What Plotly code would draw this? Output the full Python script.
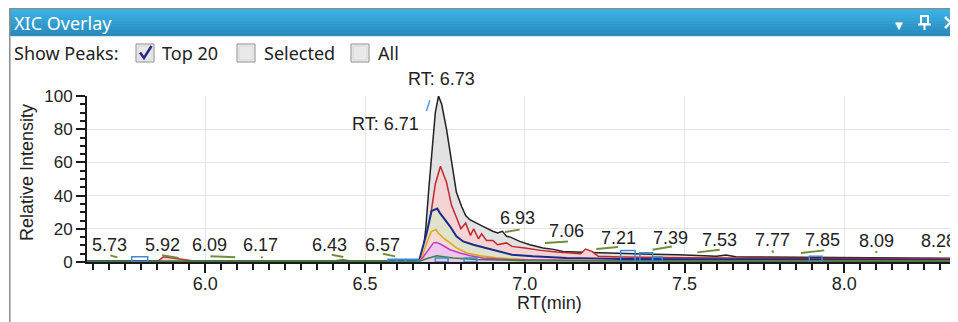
import plotly.graph_objects as go

# ---------------- data ----------------
rt_total = [5.63, 5.80, 6.00, 6.20, 6.40, 6.43, 6.46, 6.60, 6.665, 6.68, 6.69, 6.70, 6.71, 6.72, 6.73,
            6.74, 6.755, 6.771, 6.786, 6.802, 6.815, 6.828, 6.849, 6.869, 6.90, 6.915, 6.93, 6.943,
            6.955, 6.984, 7.016, 7.057, 7.09, 7.12, 7.18, 7.234, 7.27, 7.33, 7.40, 7.48, 7.55, 7.60,
            7.63, 7.66, 7.70, 7.80, 7.90, 8.00, 8.10, 8.20, 8.34]
int_total = [0.5, 0.5, 0.5, 0.5, 0.6, 1.2, 0.6, 0.8, 1.0, 3, 20, 45, 68, 90, 100,
             95, 80, 60, 42, 33.6, 28, 25.5, 23.7, 21.5, 18.5, 17.5, 18.5, 15.5,
             15, 12.4, 10.4, 8.4, 7.6, 6.4, 5.8, 5.4, 5.4, 5.0, 4.6, 4.4, 3.8, 3.4,
             4.2, 3.2, 3.0, 2.8, 2.8, 2.6, 2.5, 2.4, 2.3]

rt_red = [5.63, 5.85, 5.87, 5.92, 5.97, 6.20, 6.60, 6.67, 6.69, 6.70, 6.71, 6.72, 6.736, 6.755,
          6.771, 6.786, 6.80, 6.815, 6.83, 6.84, 6.855, 6.865, 6.88, 6.90, 6.915, 6.943, 6.96,
          7.00, 7.05, 7.10, 7.15, 7.175, 7.19, 7.21, 7.23, 7.30, 7.50, 8.00, 8.34]
int_red = [0.3, 0.3, 3.2, 2.0, 0.4, 0.3, 0.4, 0.6, 8, 20, 34, 47, 57.7, 48,
           34, 27, 20, 23.5, 16, 20, 14, 17, 13, 13, 10.4, 11.5, 9.4,
           8.5, 7, 6, 5.2, 5, 7.8, 6.4, 3.4, 3, 2.5, 2.1, 1.9]

rt_blue = [5.63, 6.66, 6.67, 6.693, 6.708, 6.726, 6.734, 6.75, 6.766, 6.786, 6.807, 6.839, 6.86,
           6.90, 6.943, 6.96, 7.025, 7.13, 7.30, 7.60, 8.00, 8.34]
int_blue = [0.3, 0.4, 1.4, 17.5, 30.6, 32.2, 29.6, 25.5, 21.5, 15.5, 12.4, 10.4, 9.4,
            7.4, 5.4, 4.4, 3.4, 2.4, 1.8, 1.5, 1.3, 1.2]

rt_orange = [5.63, 6.665, 6.677, 6.693, 6.708, 6.722, 6.729, 6.745, 6.766, 6.786, 6.818, 6.86,
             6.91, 7.00, 7.30, 8.34]
int_orange = [0.2, 0.3, 2.4, 11.5, 18.5, 19.5, 17.5, 14.5, 11.5, 8.5, 5.4, 3.8,
              2.5, 1.5, 0.8, 0.5]

rt_magenta = [5.63, 6.665, 6.68, 6.698, 6.714, 6.724, 6.74, 6.766, 6.797, 6.83, 6.87, 6.95, 7.30, 8.34]
int_magenta = [0.2, 0.3, 2.4, 7.4, 11.5, 11.8, 10.4, 7.4, 5.4, 3.8, 2.4, 1.5, 0.6, 0.4]

rt_green = [5.63, 6.67, 6.69, 6.724, 6.776, 6.85, 7.00, 8.34]
int_green = [0.2, 0.4, 1.8, 3.8, 2.4, 1.5, 0.8, 0.4]

# peak RT labels
peak_rt = [5.73, 5.92, 6.09, 6.17, 6.43, 6.57, 6.93, 7.06, 7.21, 7.39, 7.53, 7.77, 7.85, 8.09, 8.28]
label_int = [10.4, 10.4, 10.4, 10.4, 10.4, 10.4, 26.7, 18.5, 14.5, 14.5, 13.5, 13.5, 13.5, 12.4, 12.4]

# apex tangent marks (start/end RT and intensity)
mark_x0 = [5.703, 5.865, 6.016, 6.176, 6.396, 6.556, 6.938, 7.063, 7.224, 7.40, 7.54, 7.775, 7.864, 8.099, 8.299]
mark_x1 = [5.725, 5.917, 6.094, 6.178, 6.432, 6.594, 6.984, 7.135, 7.292, 7.46, 7.61, 7.777, 7.937, 8.101, 8.301]
mark_y0 = [4.0, 4.0, 3.4, 3.4, 4.4, 5.0, 18.1, 11.5, 7.8, 7.4, 5.8, 7.0, 5.4, 6.6, 6.6]
mark_y1 = [2.8, 2.4, 2.8, 2.4, 3.0, 3.4, 19.5, 12.4, 9.0, 9.4, 7.4, 5.6, 7.0, 5.4, 5.4]

# integration boxes (start RT, end RT, height)
box_x0 = [5.77, 6.572, 6.600, 6.628, 6.72, 6.81, 7.30, 7.36, 7.40, 7.89]
box_x1 = [5.82, 6.598, 6.626, 6.665, 6.76, 6.85, 7.345, 7.40, 7.43, 7.93]
box_h = [3.2, 1.6, 1.6, 1.6, 2.4, 2.4, 7.0, 5.6, 3.0, 3.4]

rt_labels = ["RT: 6.73", "RT: 6.71"]
rt_label_x = [6.73, 6.71]
rt_label_y = [110, 82.9]

x_ticks = [6.0, 6.5, 7.0, 7.5, 8.0]
y_ticks = [0, 20, 40, 60, 80, 100]
Y_MAX = 100

# ---------------- layout helpers ----------------
# the page body has an 8px margin, so the figure is 8px smaller than the window
OFF = 8
W, H = 958 - OFF, 322 - OFF
ML, MR, MT, MB = 87, 5, 96, 60          # in window pixels
PW, PH = 958 - ML - MR, 322 - MT - MB


def px(x):
    return (x - ML) / PW


def py(y):
    return 1 - (y - MT) / PH


AX_FONT = "Liberation Sans, Arial, sans-serif"
UI_FONT = "Noto Sans, Open Sans, sans-serif"
TXT = "#222222"

fig = go.Figure()

series = [
    (rt_total, int_total, "#222222", "#e2e2e2", 1.5),
    (rt_red, int_red, "#c2272d", "#f3d3d3", 1.5),
    (rt_blue, int_blue, "#1c2a8a", "#dfe3c9", 2.0),
    (rt_orange, int_orange, "#e3a21a", "#f2dcd2", 1.5),
    (rt_magenta, int_magenta, "#c23cc2", "#efc6ee", 1.5),
    (rt_green, int_green, "#2f8a2f", None, 1.5),
]
for xs, ys, lc, fc, lw in series:
    fig.add_trace(go.Scatter(
        x=xs, y=ys, mode="lines",
        line=dict(color=lc, width=lw),
        fill="tozeroy" if fc else None,
        fillcolor=fc,
        hoverinfo="skip", showlegend=False,
    ))

# integration boxes
bx, by = [], []
for a, b, h in zip(box_x0, box_x1, box_h):
    bx += [a, b, b, a, a, None]
    by += [0, 0, h, h, 0, None]
fig.add_trace(go.Scatter(x=bx, y=by, mode="lines", line=dict(color="#3d8bd3", width=1.5),
                         hoverinfo="skip", showlegend=False))

# apex marks
mx, my = [], []
for a, b, c, d in zip(mark_x0, mark_x1, mark_y0, mark_y1):
    mx += [a, b, None]
    my += [c, d, None]
fig.add_trace(go.Scatter(x=mx, y=my, mode="lines", line=dict(color="#6f8f3c", width=2),
                         hoverinfo="skip", showlegend=False))

# connector dash for RT: 6.71 label
fig.add_trace(go.Scatter(x=[6.692, 6.703], y=[91, 97.5], mode="lines",
                         line=dict(color="#5a9ae0", width=1.5),
                         hoverinfo="skip", showlegend=False))

annotations = []
label_xshift = [-9, -17, -25, 1, -13, -5, 15, 23, 27, 21, 25, 2, 26, 3, 5]
for rt, yv, sh in zip(peak_rt, label_int, label_xshift):
    annotations.append(dict(x=rt, y=yv, xref="x", yref="y", text=f"{rt:.2f}", showarrow=False,
                            xshift=sh, font=dict(family=AX_FONT, size=18, color=TXT),
                            xanchor="center", yanchor="middle"))
rt_shift = [3, -47]
for t, xv, yv, sh in zip(rt_labels, rt_label_x, rt_label_y, rt_shift):
    annotations.append(dict(x=xv, y=yv / Y_MAX, xref="x", yref="paper", text=t, showarrow=False,
                            xshift=sh, font=dict(family=AX_FONT, size=18, color=TXT),
                            xanchor="center", yanchor="middle"))

# axis titles
annotations.append(dict(x=px(27), y=py(173), xref="paper", yref="paper", text="Relative Intensity",
                        textangle=-90, showarrow=False, font=dict(family=AX_FONT, size=18, color=TXT),
                        xanchor="center", yanchor="middle"))
annotations.append(dict(x=px(549), y=py(303), xref="paper", yref="paper", text="RT(min)",
                        showarrow=False, font=dict(family=AX_FONT, size=18, color=TXT),
                        xanchor="center", yanchor="middle"))

# window chrome texts
annotations.append(dict(x=px(12), y=py(23), xref="paper", yref="paper", text="XIC Overlay",
                        showarrow=False, font=dict(family=UI_FONT, size=18, color="white"),
                        xanchor="left", yanchor="middle"))
for t, xl in [("Show Peaks:", 12), ("Top 20", 160), ("Selected", 262), ("All", 376)]:
    annotations.append(dict(x=px(xl), y=py(53), xref="paper", yref="paper", text=t,
                            showarrow=False, font=dict(family=UI_FONT, size=18, color=TXT),
                            xanchor="left", yanchor="middle"))
annotations.append(dict(x=px(899), y=py(25), xref="paper", yref="paper", text="▼",
                        showarrow=False, font=dict(family="DejaVu Sans", size=10, color="white"),
                        xanchor="center", yanchor="middle"))

shapes = []
# title bar gradient
top_c = (0x3c, 0xb2, 0xe4)
bot_c = (0x2a, 0x8a, 0xbc)
n = 9
y0, y1 = 9, 36
for i in range(n):
    t = i / (n - 1)
    c = tuple(int(top_c[k] + (bot_c[k] - top_c[k]) * t) for k in range(3))
    ya = y0 + (y1 - y0) * i / n
    yb = y0 + (y1 - y0) * (i + 1) / n
    shapes.append(dict(type="rect", xref="paper", yref="paper", x0=px(10), x1=px(960),
                       y0=py(ya), y1=py(yb + 0.3), line=dict(width=0),
                       fillcolor="rgb(%d,%d,%d)" % c, layer="below"))
shapes.append(dict(type="line", xref="paper", yref="paper", x0=px(9.5), x1=px(960),
                   y0=py(8.6), y1=py(8.6), line=dict(color="#8a8a8a", width=1.5)))
shapes.append(dict(type="line", xref="paper", yref="paper", x0=px(9.8), x1=px(9.8),
                   y0=py(8), y1=py(323), line=dict(color="#8a8a8a", width=1.5)))
shapes.append(dict(type="line", xref="paper", yref="paper", x0=px(10.5), x1=px(960),
                   y0=py(37), y1=py(37), line=dict(color="#e3f1f9", width=1)))
# pin icon
shapes.append(dict(type="rect", xref="paper", yref="paper", x0=px(921), x1=px(928),
                   y0=py(16), y1=py(24), line=dict(color="white", width=2), fillcolor="rgba(0,0,0,0)"))
shapes.append(dict(type="line", xref="paper", yref="paper", x0=px(918), x1=px(931),
                   y0=py(24.5), y1=py(24.5), line=dict(color="white", width=2)))
shapes.append(dict(type="line", xref="paper", yref="paper", x0=px(924.5), x1=px(924.5),
                   y0=py(24.5), y1=py(30), line=dict(color="white", width=2)))
# close icon
shapes.append(dict(type="line", xref="paper", yref="paper", x0=px(945), x1=px(956),
                   y0=py(17), y1=py(28), line=dict(color="white", width=2.5)))
shapes.append(dict(type="line", xref="paper", yref="paper", x0=px(945), x1=px(956),
                   y0=py(28), y1=py(17), line=dict(color="white", width=2.5)))
# checkboxes
for xl in [136, 237, 351]:
    shapes.append(dict(type="rect", xref="paper", yref="paper", x0=px(xl), x1=px(xl + 18),
                       y0=py(44), y1=py(62), line=dict(color="#8e8e8e", width=1),
                       fillcolor="#f0f0f0"))
    shapes.append(dict(type="rect", xref="paper", yref="paper", x0=px(xl + 2), x1=px(xl + 16),
                       y0=py(46), y1=py(60), line=dict(color="#d6d6d6", width=1),
                       fillcolor="#e9e9e9"))
chk = "M %f,%f L %f,%f L %f,%f" % (px(140), py(52.5), px(144), py(58), px(151.5), py(46))
shapes.append(dict(type="path", xref="paper", yref="paper", path=chk,
                   line=dict(color="#28287e", width=2.5)))

fig.update_layout(
    width=W, height=H,
    margin=dict(l=ML - OFF, r=MR, t=MT - OFF, b=MB, pad=0),
    paper_bgcolor="white", plot_bgcolor="white",
    showlegend=False,
    annotations=annotations,
    shapes=shapes,
    xaxis=dict(
        range=[5.63, 8.34], tickvals=x_ticks, ticktext=[f"{v:.1f}" for v in x_ticks],
        showline=True, linecolor="#1a1a1a", linewidth=2,
        ticks="outside", ticklen=9, tickwidth=1.5, tickcolor="#1a1a1a",
        minor=dict(ticks="outside", dtick=0.05, tick0=0, ticklen=6, tickwidth=1.5,
                   tickcolor="#1a1a1a", showgrid=False),
        showgrid=True, gridcolor="#e4e4e4", gridwidth=1, zeroline=False,
        tickfont=dict(family=AX_FONT, size=18, color=TXT),
        ticklabelstandoff=-5,
        fixedrange=True,
    ),
    yaxis=dict(
        range=[0, Y_MAX], tickvals=y_ticks,
        showline=True, linecolor="#1a1a1a", linewidth=2,
        ticks="outside", ticklen=9, tickwidth=1.5, tickcolor="#1a1a1a",
        minor=dict(ticks="outside", dtick=5, tick0=0, ticklen=5, tickwidth=1.5,
                   tickcolor="#1a1a1a", showgrid=False),
        showgrid=True, gridcolor="#e4e4e4", gridwidth=1, zeroline=False,
        tickfont=dict(family=AX_FONT, size=17, color=TXT),
        fixedrange=True,
    ),
)

fig.write_html("out.html", config={"displayModeBar": False})
